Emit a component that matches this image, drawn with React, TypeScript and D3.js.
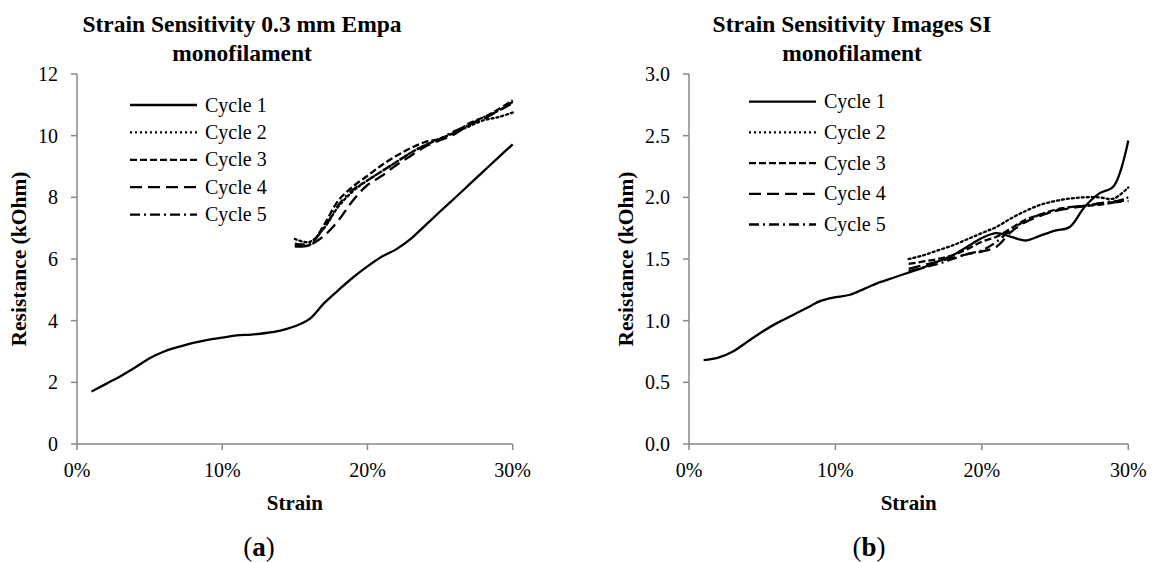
import React from "react";
import * as d3 from "d3";

// ---------- DATA ----------
const strainCycle1 = [0.01,0.02,0.03,0.04,0.05,0.06,0.07,0.08,0.09,0.10,0.11,0.12,0.13,0.14,0.15,0.16,0.17,0.18,0.19,0.20,0.21,0.22,0.23,0.24,0.25,0.26,0.27,0.28,0.29,0.30];
const strainCycles2to5 = [0.15,0.16,0.17,0.18,0.19,0.20,0.21,0.22,0.23,0.24,0.25,0.26,0.27,0.28,0.29,0.30];

const empaCycle1 = [1.70,1.95,2.20,2.48,2.78,3.00,3.15,3.28,3.38,3.45,3.52,3.55,3.60,3.68,3.82,4.05,4.56,4.99,5.40,5.76,6.08,6.32,6.66,7.10,7.54,7.97,8.41,8.85,9.29,9.72];
const empaCycle2 = [6.65,6.55,7.00,7.70,8.20,8.55,8.85,9.15,9.45,9.70,9.90,10.10,10.30,10.50,10.60,10.75];
const empaCycle3 = [6.45,6.45,7.10,7.90,8.35,8.70,9.05,9.35,9.60,9.80,9.90,10.10,10.40,10.60,10.85,11.15];
const empaCycle4 = [6.40,6.45,6.75,7.25,7.90,8.40,8.70,9.05,9.35,9.65,9.85,10.05,10.35,10.55,10.80,11.05];
const empaCycle5 = [6.50,6.50,7.00,7.75,8.25,8.55,8.85,9.15,9.45,9.70,9.90,10.15,10.35,10.60,10.80,11.10];

const siCycle1 = [0.68,0.70,0.75,0.83,0.91,0.98,1.04,1.10,1.16,1.19,1.21,1.26,1.31,1.35,1.39,1.43,1.48,1.53,1.60,1.67,1.71,1.68,1.65,1.69,1.73,1.76,1.92,2.03,2.09,2.46];
const siCycle2 = [1.50,1.53,1.57,1.61,1.66,1.71,1.76,1.83,1.89,1.94,1.97,1.99,2.00,2.00,1.99,2.08];
const siCycle3 = [1.46,1.48,1.50,1.53,1.58,1.64,1.68,1.75,1.82,1.86,1.90,1.92,1.93,1.94,1.96,2.00];
const siCycle4 = [1.42,1.45,1.48,1.51,1.54,1.56,1.60,1.72,1.80,1.85,1.89,1.91,1.93,1.95,1.96,1.97];
const siCycle5 = [1.40,1.43,1.46,1.50,1.54,1.57,1.64,1.74,1.81,1.86,1.89,1.92,1.93,1.95,1.97,1.97];

const cycleNames = ["Cycle 1", "Cycle 2", "Cycle 3", "Cycle 4", "Cycle 5"];
const xTicks = [0, 0.1, 0.2, 0.3];
const empaYTicks = [0, 2, 4, 6, 8, 10, 12];
const siYTicks = [0, 0.5, 1.0, 1.5, 2.0, 2.5, 3.0];

// ---------- STYLE ----------
const dashes = ["none", "2 3", "7 3", "12 6", "10 4 2 4"];
const FONT = "'Liberation Serif', 'Times New Roman', serif";
const AXIS = "#888888";

type PanelProps = {
  left: number;
  right: number;
  yMax: number;
  yTicks: number[];
  yFmt: (v: number) => string;
  title: string[];
  titleX: number;
  series: { x: number[]; y: number[] }[];
  legendX: number;
  legendY: number;
  legendStep: number;
  yLabelX: number;
  tag: string;
  tagX: number;
};

function Panel(p: PanelProps) {
  const top = 74, bottom = 444;
  const x = d3.scaleLinear().domain([0, 0.3]).range([p.left, p.right]);
  const y = d3.scaleLinear().domain([0, p.yMax]).range([bottom, top]);
  const line = d3
    .line<[number, number]>()
    .x((d) => x(d[0]))
    .y((d) => y(d[1]))
    .curve(d3.curveCatmullRom.alpha(0.5));
  const cx = (p.left + p.right) / 2;
  return (
    <g fontFamily={FONT} fill="#000">
      {p.title.map((t, i) => (
        <text key={t} x={p.titleX} y={32 + i * 29} textAnchor="middle" fontWeight="bold" fontSize={23.5}>
          {t}
        </text>
      ))}
      {/* axes */}
      <line x1={p.left} x2={p.left} y1={top} y2={bottom} stroke={AXIS} strokeWidth={1.5} />
      <line x1={p.left} x2={p.right} y1={bottom} y2={bottom} stroke={AXIS} strokeWidth={1.5} />
      {p.yTicks.map((t) => (
        <g key={t}>
          <line x1={p.left - 6} x2={p.left} y1={y(t)} y2={y(t)} stroke={AXIS} strokeWidth={1.5} />
          <text x={p.left - 19} y={y(t)} dy="0.35em" textAnchor="end" fontSize={20}>
            {p.yFmt(t)}
          </text>
        </g>
      ))}
      {xTicks.map((t) => (
        <g key={t}>
          <line x1={x(t)} x2={x(t)} y1={bottom} y2={bottom + 6} stroke={AXIS} strokeWidth={1.5} />
          <text x={x(t)} y={477} textAnchor="middle" fontSize={20}>
            {d3.format(".0%")(t)}
          </text>
        </g>
      ))}
      <text x={cx} y={510} textAnchor="middle" fontWeight="bold" fontSize={21}>
        Strain
      </text>
      <text
        transform={`translate(${p.yLabelX},259) rotate(-90)`}
        textAnchor="middle"
        fontWeight="bold"
        fontSize={21.5}
      >
        Resistance (kOhm)
      </text>
      {/* series */}
      {p.series.map((s, i) => (
        <path
          key={i}
          d={line(s.x.map((v, j) => [v, s.y[j]] as [number, number])) || ""}
          fill="none"
          stroke="#000"
          strokeWidth={2.3}
          strokeDasharray={dashes[i]}
          strokeLinecap={i === 1 ? "round" : "butt"}
        />
      ))}
      {/* legend */}
      {cycleNames.map((n, i) => {
        const ly = p.legendY + i * p.legendStep;
        return (
          <g key={n}>
            <line
              x1={p.legendX}
              x2={p.legendX + 67}
              y1={ly}
              y2={ly}
              stroke="#000"
              strokeWidth={2.3}
              strokeDasharray={dashes[i]}
            />
            <text x={p.legendX + 75} y={ly} dy="0.33em" fontSize={20}>
              {n}
            </text>
          </g>
        );
      })}
      <text x={p.tagX} y={556} textAnchor="middle" fontSize={27}>
        (<tspan fontWeight="bold">{p.tag}</tspan>)
      </text>
    </g>
  );
}

export default function App() {
  return (
    <svg
      width={1153}
      height={562}
      style={{ position: "absolute", left: 0, top: 0, background: "#fff" }}
    >
      <rect width={1153} height={562} fill="#fff" />
      <Panel
        left={77}
        right={512.7}
        yMax={12}
        yTicks={empaYTicks}
        yFmt={(v) => d3.format("d")(v)}
        title={["Strain Sensitivity 0.3 mm Empa", "monofilament"]}
        titleX={242}
        series={[
          { x: strainCycle1, y: empaCycle1 },
          { x: strainCycles2to5, y: empaCycle2 },
          { x: strainCycles2to5, y: empaCycle3 },
          { x: strainCycles2to5, y: empaCycle4 },
          { x: strainCycles2to5, y: empaCycle5 },
        ]}
        legendX={130}
        legendY={105}
        legendStep={27.4}
        yLabelX={26}
        tag="a"
        tagX={259}
      />
      <Panel
        left={689}
        right={1128.3}
        yMax={3}
        yTicks={siYTicks}
        yFmt={(v) => d3.format(".1f")(v)}
        title={["Strain Sensitivity Images SI", "monofilament"]}
        titleX={852}
        series={[
          { x: strainCycle1, y: siCycle1 },
          { x: strainCycles2to5, y: siCycle2 },
          { x: strainCycles2to5, y: siCycle3 },
          { x: strainCycles2to5, y: siCycle4 },
          { x: strainCycles2to5, y: siCycle5 },
        ]}
        legendX={749}
        legendY={101.7}
        legendStep={30.7}
        yLabelX={633}
        tag="b"
        tagX={869}
      />
    </svg>
  );
}
